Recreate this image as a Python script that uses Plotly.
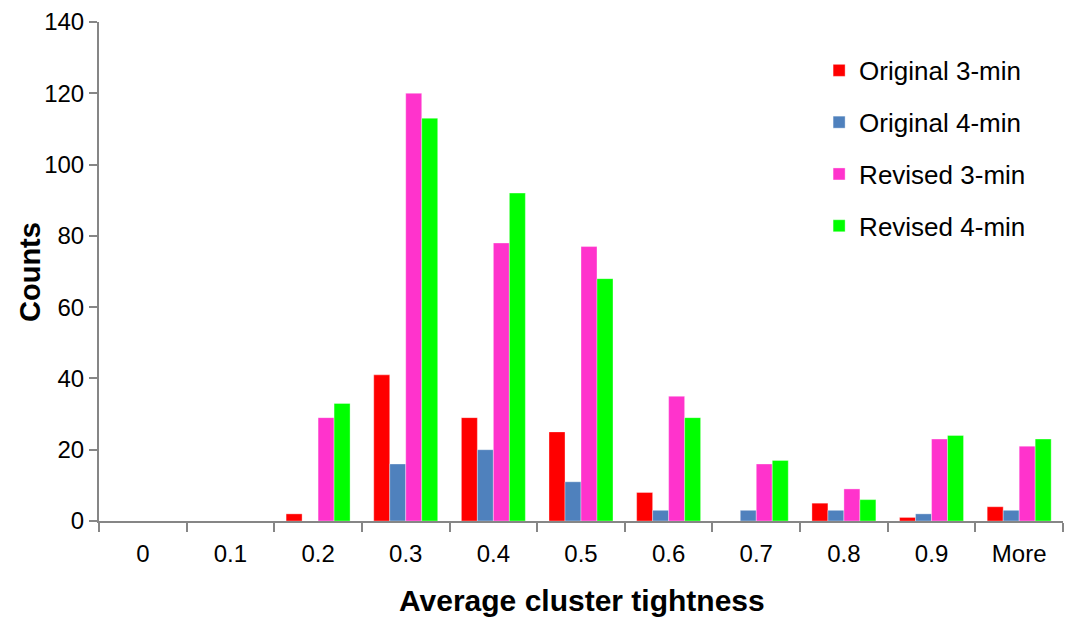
import plotly.graph_objects as go

# Histogram bins of average cluster tightness
categories = ["0", "0.1", "0.2", "0.3", "0.4", "0.5", "0.6", "0.7", "0.8", "0.9", "More"]

original_3min = [0, 0, 2, 41, 29, 25, 8, 0, 5, 1, 4]
original_4min = [0, 0, 0, 16, 20, 11, 3, 3, 3, 2, 3]
revised_3min = [0, 0, 29, 120, 78, 77, 35, 16, 9, 23, 21]
revised_4min = [0, 0, 33, 113, 92, 68, 29, 17, 6, 24, 23]

series = [
    ("Original 3-min", original_3min, "#FF0000"),
    ("Original 4-min", original_4min, "#4F81BD"),
    ("Revised 3-min", revised_3min, "#FF33CC"),
    ("Revised 4-min", revised_4min, "#00FF00"),
]

FONT = "Liberation Sans, Arial, sans-serif"
AXIS_GREY = "#868686"

fig = go.Figure()
for name, vals, color in series:
    fig.add_trace(go.Bar(
        x=categories, y=vals, name=name,
        marker=dict(color=color, line=dict(width=1, color="rgba(255,255,255,0.35)")),
        legendgroup=name,
    ))

fig.update_layout(
    width=1066, height=622,
    margin=dict(l=99, r=3, t=22, b=101),
    paper_bgcolor="white", plot_bgcolor="white",
    barmode="group", bargap=0.27, bargroupgap=0,
    font=dict(family=FONT, size=24, color="black"),
    showlegend=True,
    legend=dict(
        x=0.747, y=0.95, xanchor="left", yanchor="top",
        font=dict(family=FONT, size=26, color="black"),
        bgcolor="rgba(0,0,0,0)", tracegroupgap=15,
        traceorder="grouped",
    ),
    xaxis=dict(
        type="category", showgrid=False, zeroline=False,
        showline=True, linecolor=AXIS_GREY, linewidth=2,
        ticks="outside", tickson="boundaries", ticklen=9, tickcolor=AXIS_GREY, tickwidth=2,
        tickfont=dict(family=FONT, size=24), ticklabelstandoff=10, fixedrange=True,
    ),
    yaxis=dict(
        range=[0, 140], dtick=20, showgrid=False, zeroline=False,
        showline=True, linecolor=AXIS_GREY, linewidth=2,
        ticks="outside", ticklen=8, tickcolor=AXIS_GREY, tickwidth=2,
        tickfont=dict(family=FONT, size=24),
    ),
    annotations=[
        dict(text="<b>Average cluster tightness</b>", xref="paper", yref="paper",
             x=0.501, y=-0.16, xanchor="center", yanchor="middle", showarrow=False,
             font=dict(family=FONT, size=30, color="black")),
        dict(text="<b>Counts</b>", xref="paper", yref="paper", textangle=-90,
             x=-0.0716, y=0.499, xanchor="center", yanchor="middle", showarrow=False,
             font=dict(family=FONT, size=29, color="black")),
    ],
)

fig.write_html("out.html")
